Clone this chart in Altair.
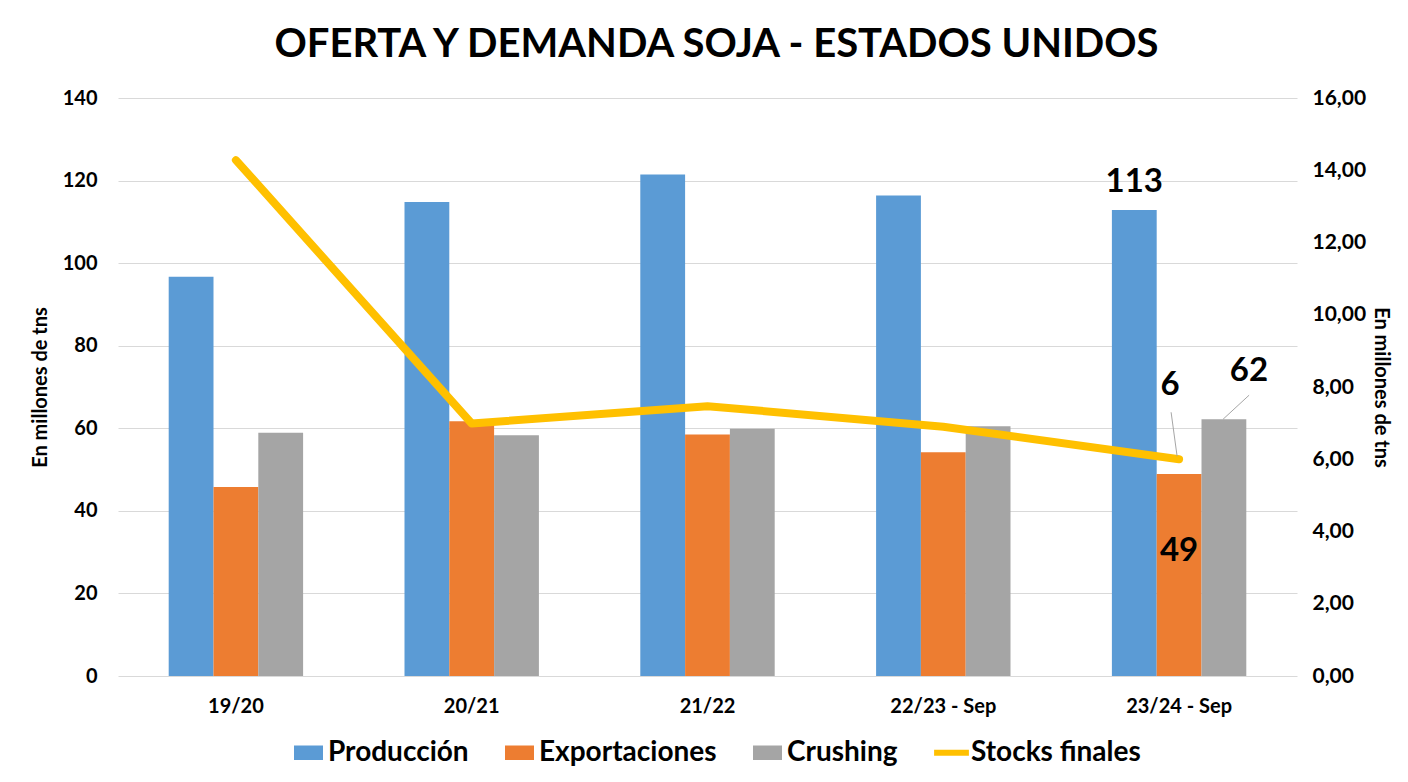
import altair as alt
import pandas as pd

categories = ["19/20", "20/21", "21/22", "22/23 - Sep", "23/24 - Sep"]
produccion = [96.7, 114.8, 121.5, 116.4, 112.9]
exportaciones = [45.8, 61.7, 58.5, 54.2, 48.9]
crushing = [58.9, 58.3, 59.9, 60.5, 62.2]
stocks = [14.28, 6.99, 7.47, 6.9, 6.0]
bar_series = ["Producción", "Exportaciones", "Crushing"]
line_series = "Stocks finales"
colors = ["#5B9BD5", "#ED7D31", "#A5A5A5", "#FFC000"]

# annotation labels (last season)
lab_cat = "23/24 - Sep"
lab_prod = "113"
lab_exp = "49"
lab_crush = "62"
lab_stock = "6"

FONT = "Lato"
all_series = bar_series + [line_series]

rows = []
for i, c in enumerate(categories):
    for s, vals in zip(bar_series, [produccion, exportaciones, crushing]):
        rows.append({"cat": c, "serie": s, "v": vals[i]})
bars_df = pd.DataFrame(rows)
line_df = pd.DataFrame({"cat": categories, "v": stocks})
legend_df = pd.DataFrame({"cat": [categories[0]] * 4, "serie": all_series, "v": [0] * 4})

idx = categories.index(lab_cat)
t_prod = pd.DataFrame([{"cat": lab_cat, "serie": "Producción", "v": produccion[idx], "label": lab_prod}])
t_exp = pd.DataFrame([{"cat": lab_cat, "serie": "Exportaciones", "v": exportaciones[idx], "label": lab_exp}])
t_crush = pd.DataFrame([{"cat": lab_cat, "serie": "Crushing", "v": crushing[idx], "label": lab_crush}])
t_stock = pd.DataFrame([{"cat": lab_cat, "v": stocks[idx], "label": lab_stock}])

xscale = alt.Scale(domain=categories, paddingInner=0.43, paddingOuter=0.215)
x_axis = alt.Axis(labelAngle=0, labelFont=FONT, labelFontSize=20, labelFontWeight="bold",
                  labelColor="#000000", labelPadding=20, ticks=False, domain=False, grid=False)
x_enc = alt.X("cat:N", scale=xscale, sort=categories, title=None, axis=x_axis)
xoff = alt.XOffset("serie:N", scale=alt.Scale(domain=bar_series, paddingInner=0, paddingOuter=0), sort=bar_series)

left_axis = alt.Axis(values=list(range(0, 141, 20)), labelFont=FONT, labelFontSize=20,
                     labelFontWeight="bold", labelColor="#000000", labelPadding=21,
                     titleFont=FONT, titleFontSize=20, titleFontWeight="bold", titleColor="#000000",
                     titlePadding=12, ticks=False, domain=False, gridColor="#D9D9D9", gridWidth=1)
right_axis = alt.Axis(orient="right", values=list(range(0, 17, 2)),
                      labelExpr="replace(format(datum.value, '.2f'), '.', ',')",
                      labelFont=FONT, labelFontSize=21, labelFontWeight="bold", labelColor="#000000",
                      labelPadding=15, titleFont=FONT, titleFontSize=20, titleFontWeight="bold",
                      titleColor="#000000", titlePadding=5, ticks=False, domain=False, grid=False)
y_left = alt.Y("v:Q", scale=alt.Scale(domain=[0, 140], nice=False), title="En millones de tns", axis=left_axis)
y_right = alt.Y("v:Q", scale=alt.Scale(domain=[0, 16], nice=False), title="En millones de tns", axis=right_axis)

sym_square = "M-1,-0.5H1V0.5H-1Z"
sym_line = "M-1.2,-0.2H1.2V0.2H-1.2Z"
color_scale = alt.Scale(domain=all_series, range=colors)
legend = alt.Legend(title=None, orient="none", direction="horizontal", legendX=176, legendY=640,
                    labelFont=FONT, labelFontSize=28, labelFontWeight="bold", labelLimit=400,
                    labelColor="#000000", labelOffset=5, columnPadding=36,
                    symbolSize=841, symbolStrokeWidth=0, symbolOpacity=1)
color_enc = alt.Color("serie:N", scale=color_scale, sort=all_series, title=None, legend=legend)

bars = alt.Chart(bars_df).mark_bar().encode(
    x=x_enc, xOffset=xoff, y=y_left, color=color_enc,
)

legend_pts = alt.Chart(legend_df).mark_point(filled=True, opacity=0).encode(
    x=x_enc,
    y=y_left,
    color=color_enc,
    shape=alt.Shape("serie:N", sort=all_series, title=None, legend=legend,
                    scale=alt.Scale(domain=all_series, range=[sym_square, sym_square, sym_square, sym_line])),
)

def bar_text(df, dx, dy, color="#000000"):
    return alt.Chart(df).mark_text(font=FONT, fontSize=33, fontWeight="bold", color=color,
                                   dx=dx, dy=dy, baseline="middle", align="center").encode(
        x=x_enc, xOffset=xoff, y=y_left, text="label:N",
    )

txt_prod = bar_text(t_prod, 0, -28)
txt_exp = bar_text(t_exp, 0, 77)
txt_crush = bar_text(t_crush, 25, -48)

lead_crush = alt.Chart(t_crush).mark_rule(color="#A6A6A6", strokeWidth=1,
                                          xOffset=70, x2Offset=44, yOffset=-24, y2Offset=0).encode(
    x=x_enc, x2="cat:N", y=y_left, y2="v:Q",
)

left = alt.layer(bars, legend_pts, lead_crush, txt_prod, txt_exp, txt_crush)

line = alt.Chart(line_df).mark_line(color=colors[3], strokeWidth=8, strokeCap="round", strokeJoin="round").encode(
    x=x_enc, y=y_right,
)

lead_stock = alt.Chart(t_stock).mark_rule(color="#A6A6A6", strokeWidth=1,
                                          xOffset=-8, x2Offset=-2, yOffset=-47, y2Offset=-3).encode(
    x=x_enc, x2="cat:N", y=y_right, y2="v:Q",
)

txt_stock = alt.Chart(t_stock).mark_text(font=FONT, fontSize=33, fontWeight="bold", color="#000000",
                                         dx=-9, dy=-74, baseline="middle", align="center").encode(
    x=x_enc, y=y_right, text="label:N",
)

right = alt.layer(line, lead_stock, txt_stock)

chart = alt.layer(left, right).resolve_scale(y="independent").properties(
    width=1179, height=578,
    title=alt.Title("OFERTA Y DEMANDA SOJA - ESTADOS UNIDOS", font=FONT, fontSize=40, fontWeight="bold",
                    color="#000000", anchor="middle", offset=22, dx=9),
    padding={"left": 110, "top": 90, "right": 102, "bottom": 90},
    autosize=alt.AutoSizeParams(type="none"),
).configure(background="#FFFFFF").configure_view(stroke=None)

chart.save("out.html", embed_options={"renderer": "svg", "actions": False})
